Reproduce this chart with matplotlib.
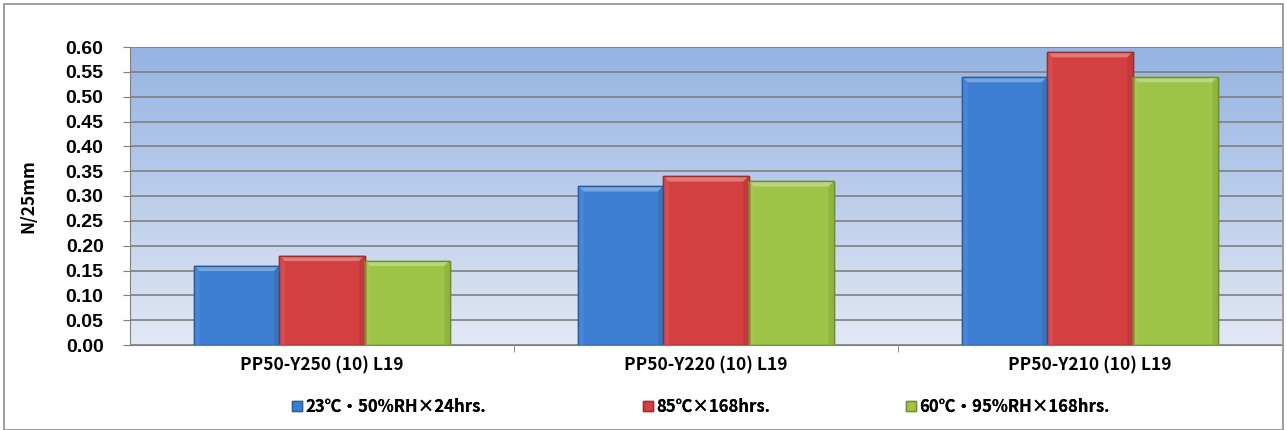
import numpy as np
import matplotlib.pyplot as plt
from matplotlib.patches import Rectangle, Polygon
from matplotlib.colors import to_rgb

plt.rcParams['font.family'] = ['Noto Sans CJK JP', 'DejaVu Sans']

categories = ["PP50-Y250 (10) L19", "PP50-Y220 (10) L19", "PP50-Y210 (10) L19"]
series_names = ["23℃・50%RH×24hrs.", "85℃×168hrs.", "60℃・95%RH×168hrs."]
values_23 = [0.16, 0.32, 0.54]
values_85 = [0.18, 0.34, 0.59]
values_60 = [0.17, 0.33, 0.54]
series = [values_23, values_85, values_60]
colors = ["#3c7fd2", "#d43f3f", "#9cc548"]
edges = ["#2a5d9e", "#9c2d2d", "#6f8f2f"]
legend_x = [287, 638, 901]  # pixel positions of legend markers


def shade(c, f):
    r = np.array(to_rgb(c))
    if f > 0:
        return tuple(r + (1 - r) * f)
    return tuple(r * (1 + f))


fig = plt.figure(figsize=(12.87, 4.30), dpi=100)
ax = fig.add_axes([130 / 1287, 1 - 345 / 430, (1282 - 130) / 1287, (345 - 47) / 430])

# gradient background
grad = np.linspace(0, 1, 256).reshape(-1, 1)
top = np.array([0x95, 0xb3, 0xe3]) / 255
bot = np.array([0xe2, 0xe8, 0xf4]) / 255
img = bot + (top - bot) * grad
ax.imshow(img[:, None, :].repeat(2, axis=1), extent=[-0.5, 2.5, 0, 0.6],
          aspect='auto', origin='lower', zorder=0)

x = np.arange(len(categories))
w = 0.222
bx = 0.014   # bevel width in data units
by = 0.011
handles = []
for i, (vals, c, e) in enumerate(zip(series, colors, edges)):
    bars = ax.bar(x + (i - 1) * w, vals, w, color=c, edgecolor=e, linewidth=1.0,
                  zorder=3, label=series_names[i])
    handles.append(bars[0])
    for b in bars:
        x0, y0 = b.get_x(), b.get_y()
        x1, y1 = x0 + b.get_width(), y0 + b.get_height()
        tp = [(x0, y1), (x1, y1), (x1 - bx, y1 - by), (x0 + bx, y1 - by)]
        lp = [(x0, y0), (x0, y1), (x0 + bx, y1 - by), (x0 + bx, y0)]
        rp = [(x1, y0), (x1, y1), (x1 - bx, y1 - by), (x1 - bx, y0)]
        for pts, f in [(tp, 0.3), (lp, 0.06), (rp, -0.08)]:
            ax.add_patch(Polygon(pts, closed=True, facecolor=shade(c, f),
                                 edgecolor='none', zorder=3.5))
        ax.add_patch(Rectangle((x0, y0), b.get_width(), b.get_height(),
                               fill=False, edgecolor=e, linewidth=1.0, zorder=3.6))

ax.set_xlim(-0.5, 2.5)
ax.set_ylim(0, 0.6)
yt = np.arange(0, 0.61, 0.05)
ax.set_yticks(yt)
ax.set_yticklabels([f"{v:.2f}" for v in yt], fontsize=14, fontweight='bold',
                   family='Liberation Sans')
ax.yaxis.grid(True, color='#7f7f7f', linewidth=1.2, zorder=1)
ax.set_axisbelow(False)
ax.set_xticks(x)
ax.set_xticklabels(categories, fontsize=12.5, fontweight='bold')
ax.set_xticks([0.5, 1.5], minor=True)
ax.tick_params(axis='x', which='major', length=0, pad=8)
ax.tick_params(axis='x', which='minor', length=5, color='#7f7f7f')
ax.tick_params(axis='y', length=5, color='#7f7f7f', pad=14)
for s in ['top', 'right']:
    ax.spines[s].set_visible(False)
ax.spines['left'].set_color('#7f7f7f')
ax.spines['bottom'].set_color('#7f7f7f')
ax.set_ylabel("N/25mm", fontsize=12.5, fontweight='bold')
ax.yaxis.set_label_coords((37 - 130) / 1152, 0.5)

for h, name, px in zip(handles, series_names, legend_x):
    leg = fig.legend([h], [name], loc='center left',
                     bbox_to_anchor=(px / 1287 - 0.008, 1 - 407 / 430),
                     frameon=False, handlelength=0.6, handleheight=0.6,
                     handletextpad=0.2, prop={'weight': 'bold', 'size': 12})
    fig.add_artist(leg)

fig.patches.append(Rectangle((4 / 1287, 0), 1 - 8 / 1287, 1 - 4 / 430,
                             transform=fig.transFigure, fill=False,
                             edgecolor='#8c8c8c', linewidth=1.2))

fig.savefig("out.png", dpi=100)
